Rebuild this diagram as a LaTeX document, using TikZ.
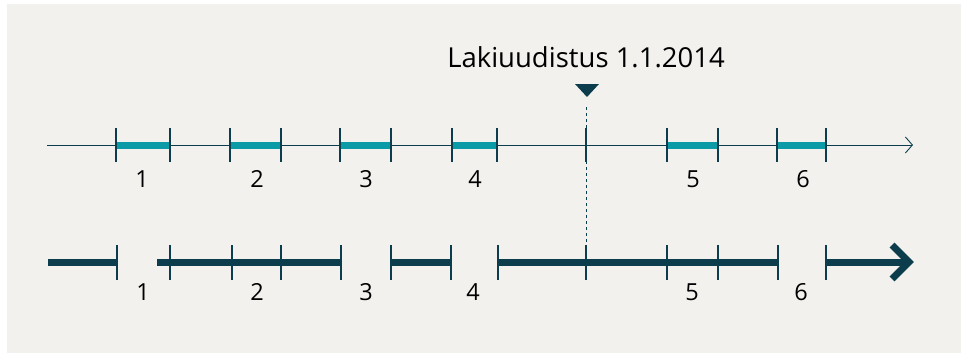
\documentclass[tikz,border=0pt]{standalone}
\usepackage{fontspec}
\setmainfont{Open Sans}
\usetikzlibrary{arrows.meta}
\definecolor{bgpanel}{HTML}{F2F1EE}
\definecolor{tealbar}{HTML}{0A9BA6}
\definecolor{darkteal}{HTML}{0B3D4C}
\begin{document}
\begin{tikzpicture}[x=1pt,y=-1pt,
  tickmark/.style={draw=darkteal, line width=1.1pt},
  axisline/.style={draw=darkteal, line width=0.9pt},
  tealseg/.style={draw=tealbar, line width=7pt},
  darkseg/.style={draw=darkteal, line width=7pt},
  lbl/.style={font=\fontsize{23.5}{26}\selectfont, text=black, anchor=base, inner sep=0pt},
  titletext/.style={font=\fontsize{27.5}{30}\selectfont, text=black, anchor=base, inner sep=0pt}]
\useasboundingbox (0,0) rectangle (961,353);
\fill[white] (0,0) rectangle (961,353);
\fill[bgpanel] (7,4) rectangle (961,353);
% title and marker
\node[titletext] (title) at (586,67) {Lakiuudistus 1.1.2014};
\fill[darkteal] (575,84) -- (599,84) -- (587,97) -- cycle;
\coordinate (dtop) at (586,107);
\coordinate (dbot) at (586,245);
\draw[darkteal, line width=1pt, dash pattern=on 3pt off 3pt] (dtop) -- (dbot);
% top axis
\coordinate (a0) at (47,145);
\coordinate (a1) at (913,145);
\draw[axisline, -{Straight Barb[length=7pt, width=16pt, line width=0.9pt]}] (a0) -- (a1);
\foreach \xa/\xb in {116/170, 230/281, 340/391, 452/497, 667/718, 777/826}{
  \draw[tealseg] (\xa,145.5) -- (\xb,145.5);
}
\foreach \x in {116,170,230,281,340,391,452,497,586,667,718,777,826}{
  \draw[tickmark] (\x,128) -- (\x,162);
}
\foreach \n/\x in {1/142, 2/257, 3/366, 4/475, 5/693, 6/803}{
  \node[lbl] (t\n) at (\x,187) {\n};
}
% bottom axis
\foreach \xa/\xb in {48/117, 157/341, 391/451, 498/778, 826/909}{
  \draw[darkseg] (\xa,262) -- (\xb,262);
}
\draw[darkseg, miter limit=4] (892,245) -- (909,262) -- (892,279);
\foreach \x in {117,170,232,281,341,391,451,498,586,667,718,778,826}{
  \draw[tickmark] (\x,245) -- (\x,280);
}
\foreach \n/\x in {1/143, 2/257, 3/366, 4/473, 5/692, 6/801}{
  \node[lbl] (b\n) at (\x,300) {\n};
}
\end{tikzpicture}
\end{document}
